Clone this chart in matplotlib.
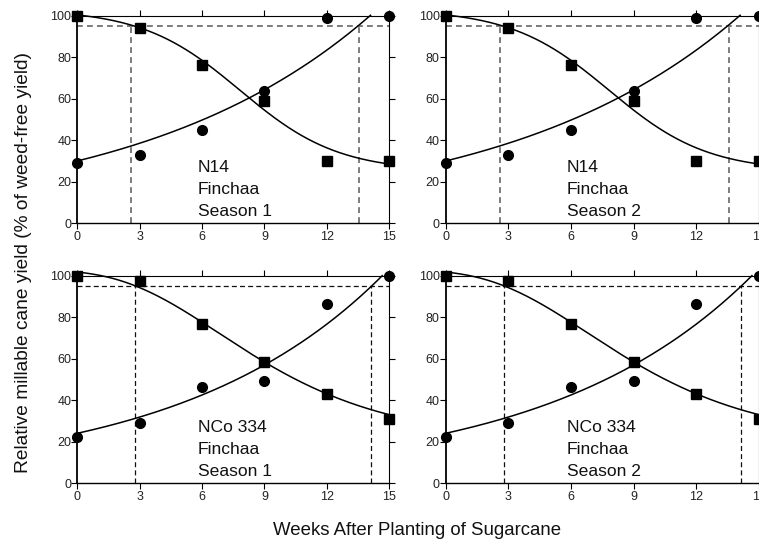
import numpy as np
import matplotlib
matplotlib.use("Agg")
import matplotlib.pyplot as plt

plt.rcParams['font.family'] = ['Liberation Sans', 'DejaVu Sans']

# ---- data ----
weeks = [0, 3, 6, 9, 12, 15]
xticks = [0, 3, 6, 9, 12, 15]
yticks = [0, 20, 40, 60, 80, 100]

# N14 (both seasons)
n14_weedy = [100, 94, 76, 59, 30, 30]      # squares
n14_weedfree = [29, 33, 45, 63.5, 99, 100]  # circles
# NCo 334 (both seasons)
nco_weedy = [100, 97.5, 77, 58.5, 43, 31]
nco_weedfree = [22.5, 29, 46.5, 49.5, 86.5, 100]

# fitted model parameters
n14_dec = dict(lo=25.0, hi=103.0, x0=7.825, s=2.352)          # logistic
n14_inc = dict(c=2.3, d=27.7, r=0.0895)                         # exponential
nco_dec = dict(lo=20.0, hi=103.0, m=6.8, s=4.65)               # gompertz-type
nco_inc = dict(c=2.34, d=21.76, r=0.1025)

# critical period limits (weeks)
n14_crit = [2.58, 13.56]
nco_crit = [2.77, 14.13]
acceptable = 95

labels_n14 = ["N14", "Finchaa"]
labels_nco = ["NCo 334", "Finchaa"]
seasons = ["Season 1", "Season 2"]


def logistic_dec(x, p):
    return p['lo'] + (p['hi'] - p['lo']) / (1 + np.exp((x - p['x0']) / p['s']))


def gomp_dec(x, p):
    return p['lo'] + (p['hi'] - p['lo']) * (1 - np.exp(-np.exp(-(x - p['m']) / p['s'])))


def expo_inc(x, p):
    return p['c'] + p['d'] * np.exp(p['r'] * x)


fig = plt.figure(figsize=(7.59, 5.41), dpi=100)

cols = [(0.1018, 0.4111), (0.5872, 0.4128)]
rows = [(0.5872, 0.3841), (0.1067, 0.3832)]

xs = np.linspace(0, 15, 400)

for r, (bot, h) in enumerate(rows):
    for c, (left, w) in enumerate(cols):
        ax = fig.add_axes([left, bot, w, h])
        if r == 0:
            weedy, wfree = n14_weedy, n14_weedfree
            dec = logistic_dec(xs, n14_dec)
            inc = expo_inc(xs, n14_inc)
            crit = n14_crit
            labs = labels_n14
            dcol, dlw, ddash = '#666666', 1.2, (3.5, 2.5)
        else:
            weedy, wfree = nco_weedy, nco_weedfree
            dec = gomp_dec(xs, nco_dec)
            inc = expo_inc(xs, nco_inc)
            crit = nco_crit
            labs = labels_nco
            dcol, dlw, ddash = '#111111', 0.9, (4, 2.5)

        inc = np.where(inc <= 100.3, inc, np.nan)

        ax.set_xlim(0, 15)
        ax.set_ylim(0, 100)

        # dashed reference lines
        ax.plot([0, 15], [acceptable, acceptable], color=dcol, lw=dlw,
                dashes=ddash, zorder=2)
        for xc in crit:
            ax.plot([xc, xc], [0, acceptable], color=dcol, lw=dlw,
                    dashes=ddash, zorder=2)

        ax.plot(xs, dec, color='black', lw=1.1, zorder=3, clip_on=False)
        ax.plot(xs, inc, color='black', lw=1.1, zorder=3, clip_on=False)

        ax.plot(weeks, weedy, linestyle='none', marker='s', ms=7.6,
                color='black', zorder=5, clip_on=False)
        ax.plot(weeks, wfree, linestyle='none', marker='o', ms=7.0,
                color='black', zorder=5, clip_on=False)

        for i, t in enumerate(labs + [seasons[c]]):
            ax.text(5.8, [26.8, 16.4, 5.6][i], t, fontsize=12.6,
                    ha='left', va='center', color='#111111')

        ax.set_xticks(xticks)
        ax.set_yticks(yticks)
        ax.tick_params(axis='both', direction='out', length=4, width=0.8,
                       labelsize=9, pad=1.5, top=True, right=True,
                       color='black', labelcolor='#222222')
        ax.tick_params(axis='y', pad=0.3)
        for side in ['top', 'right']:
            ax.spines[side].set_linewidth(0.8)
        ax.spines['left'].set_linewidth(1.3)
        ax.spines['bottom'].set_linewidth(1.0)
        ax.patch.set_alpha(0)

fig.text(0.549, 1 - 535 / 541, "Weeks After Planting of Sugarcane",
         fontsize=13.4, ha='center', va='baseline', color='#111111')
fig.text(0.0316, 0.515, "Relative millable cane yield (% of weed-free yield)",
         fontsize=13.8, ha='center', va='center', rotation=90, color='#111111')

fig.savefig("out.png", dpi=100)
